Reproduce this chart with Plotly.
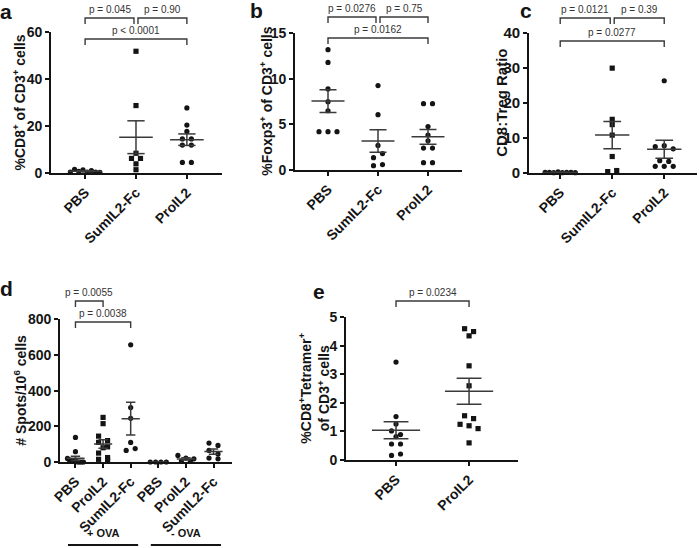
import numpy as np
import plotly.graph_objects as go

W, H = 699, 548

# ---------------- data ----------------
a_categories = ["PBS", "SumIL2-Fc", "ProIL2"]
a_pbs = [0.4, 1.6, 0.7, 1.3, 0.4, 1.0, 0.4, 0.3]
a_sumil2fc = [51.8, 28.7, 8.4, 6.2, 6.2, 3.9, 1.4]
a_proil2 = [27.7, 20.4, 17.7, 14.5, 14.5, 11.9, 11.9, 4.5, 4.5]
a_pvalues = ["p = 0.045", "p = 0.90", "p < 0.0001"]
a_ytitle = "%CD8<sup>+</sup> of CD3<sup>+</sup> cells"

b_categories = ["PBS", "SumIL2-Fc", "ProIL2"]
b_pbs = [13.2, 11.8, 8.9, 7.5, 6.5, 4.2, 4.2, 4.2]
b_sumil2fc = [9.26, 6.07, 2.7, 1.35, 1.8, 0.48, 0.59]
b_proil2 = [7.28, 7.28, 4.76, 3.84, 3.2, 2.41, 2.41, 0.8, 0.8]
b_pvalues = ["p = 0.0276", "p = 0.75", "p = 0.0162"]
b_ytitle = "%Foxp3<sup>+</sup> of CD3<sup>+</sup> cells"

c_categories = ["PBS", "SumIL2-Fc", "ProIL2"]
c_pbs = [0.15, 0.2, 0.1, 0.3, 0.1, 0.2, 0.15, 0.1]
c_sumil2fc = [29.9, 15.3, 13.8, 10.8, 4.7, 0.4, 0.7]
c_proil2 = [26.3, 7.5, 7.8, 6.9, 3.5, 3.3, 1.9, 1.9, 1.9]
c_pvalues = ["p = 0.0121", "p = 0.39", "p = 0.0277"]
c_ytitle = "CD8:Treg Ratio"

d_categories = ["PBS", "ProIL2", "SumIL2-Fc", "PBS", "ProIL2", "SumIL2-Fc"]
d_groups = ["+ OVA", "- OVA"]
d_pbs_ova = [138, 58, 20, 12, 8, 5, 3, 2, 0, 0, 0, 0]
d_proil2_ova = [250, 215, 145, 120, 110, 85, 80, 50, 25, 15, 12]
d_sumil2fc_ova = [657, 305, 245, 110, 65, 75]
d_pbs_noova = [0, 0, 0, 0]
d_proil2_noova = [37, 22, 18, 5, 3]
d_sumil2fc_noova = [106, 93, 65, 45, 22, 18]
d_pvalues = ["p = 0.0055", "p = 0.0038"]
d_ytitle = "# Spots/10<sup>6</sup> cells"

e_categories = ["PBS", "ProIL2"]
e_pbs = [3.43, 1.52, 1.26, 1.02, 0.89, 0.82, 0.56, 0.56, 0.16, 0.21]
e_proil2 = [4.6, 4.5, 4.35, 3.3, 2.6, 1.55, 1.45, 1.25, 1.2, 1.1, 0.6]
e_pvalues = ["p = 0.0234"]
e_ytitle = "%CD8<sup>+</sup>Tetramer<sup>+</sup><br>of CD3<sup>+</sup> cells"

# ---------------- layout spec (pixels) ----------------
FONT = "Liberation Sans, Arial, Helvetica, sans-serif"
INK = "#141414"
LINE = "#3a3a3a"
MS = 5.2

panels = [
    dict(key="a", px=(51, 222), py=(173, 32), xr=(-0.67, 2.69), yr=(0, 60), dtick=20,
         cats=a_categories, data=[(a_pbs, "circle"), (a_sumil2fc, "square"), (a_proil2, "circle")],
         ytitle=a_ytitle, ytx=20, tfs=14, kfs=14, letter=(6, 11)),
    dict(key="b", px=(295, 462), py=(170, 33.3), xr=(-0.66, 2.68), yr=(0, 15), dtick=5,
         cats=b_categories, data=[(b_pbs, "circle"), (b_sumil2fc, "circle"), (b_proil2, "circle")],
         ytitle=b_ytitle, ytx=266, tfs=14, kfs=14, letter=(256, 10)),
    dict(key="c", px=(529, 697), py=(173, 32.7), xr=(-0.6, 2.63), yr=(0, 40), dtick=10,
         cats=c_categories, data=[(c_pbs, "circle"), (c_sumil2fc, "square"), (c_proil2, "circle")],
         ytitle=c_ytitle, ytx=502, tfs=15, kfs=15, letter=(526, 10)),
    dict(key="d", px=(60, 232), py=(462, 319.3), xr=(-0.56, 5.67), yr=(0, 800), dtick=200,
         cats=d_categories,
         data=[(d_pbs_ova, "circle"), (d_proil2_ova, "square"), (d_sumil2fc_ova, "circle"),
               (d_pbs_noova, "circle"), (d_proil2_noova, "circle"), (d_sumil2fc_noova, "circle")],
         ytitle=d_ytitle, ytx=20, tfs=14, kfs=14, letter=(6, 288)),
    dict(key="e", px=(346, 518), py=(460, 317.3), xr=(-0.685, 1.67), yr=(0, 5), dtick=1,
         cats=e_categories, data=[(e_pbs, "circle"), (e_proil2, "square")],
         ytitle=e_ytitle, ytx=314, tfs=14, kfs=14, letter=(319, 291)),
]

# brackets: (panel, x_from_cat, x_to_cat, line_y_px, label)
brackets = [
    ("a", 0, 1, 18, a_pvalues[0], "L"), ("a", 1, 2, 18, a_pvalues[1], "R"), ("a", 0, 2, 39, a_pvalues[2], ""),
    ("b", 0, 1, 17, b_pvalues[0], "L"), ("b", 1, 2, 17, b_pvalues[1], "R"), ("b", 0, 2, 38, b_pvalues[2], ""),
    ("c", 0, 1, 18, c_pvalues[0], "L"), ("c", 1, 2, 18, c_pvalues[1], "R"), ("c", 0, 2, 41, c_pvalues[2], ""),
    ("d", 0, 1, 301, d_pvalues[0], ""), ("d", 0, 2, 322, d_pvalues[1], ""),
    ("e", 0, 1, 301, e_pvalues[0], ""),
]


def swarm(vals, ppu_y, ppu_x, thr=5.0, gap=9.0, maxfrac=0.58):
    vals = np.asarray(vals, float)
    order = np.argsort(-vals, kind="stable")
    rows, cur = [], []
    for idx in order:
        if cur and abs(vals[cur[0]] - vals[idx]) * ppu_y > thr:
            rows.append(cur)
            cur = []
        cur.append(idx)
    if cur:
        rows.append(cur)
    offs = np.zeros(len(vals))
    for r in rows:
        r = sorted(r)
        n = len(r)
        sp = gap if n == 1 else min(gap, maxfrac * ppu_x / (n - 1))
        for j, idx in enumerate(r):
            offs[idx] = (j - (n - 1) / 2) * sp / ppu_x
    return offs


fig = go.Figure()
annotations = []
shapes = []
pinfo = {}

for k, p in enumerate(panels):
    sfx = "" if k == 0 else str(k + 1)
    x0, x1 = p["px"]
    yb, yt = p["py"]
    r0, r1 = p["xr"]
    s0, s1 = p["yr"]
    ppu_x = (x1 - x0) / (r1 - r0)
    ppu_y = (yb - yt) / (s1 - s0)

    def xpx(v, x0=x0, r0=r0, ppu_x=ppu_x):
        return x0 + (v - r0) * ppu_x

    pinfo[p["key"]] = xpx

    lx, ly = [], []
    for i, (vals, sym) in enumerate(p["data"]):
        v = np.asarray(vals, float)
        offs = swarm(v, ppu_y, ppu_x)
        fig.add_trace(go.Scatter(
            x=i + offs, y=v, mode="markers", xaxis="x" + sfx, yaxis="y" + sfx,
            marker=dict(symbol=sym, size=MS, color=INK, line=dict(width=0)),
            cliponaxis=False, showlegend=False, hoverinfo="y"))
        m = v.mean()
        se = v.std(ddof=1) / np.sqrt(len(v))
        lx += [i - 0.33, i + 0.33, None]
        ly += [m, m, None]
        if se > 0:
            lx += [i, i, None, i - 0.17, i + 0.17, None, i - 0.17, i + 0.17, None]
            ly += [m - se, m + se, None, m + se, m + se, None, m - se, m - se, None]
    fig.add_trace(go.Scatter(
        x=lx, y=ly, mode="lines", xaxis="x" + sfx, yaxis="y" + sfx,
        line=dict(color=LINE, width=1.5), cliponaxis=False, showlegend=False, hoverinfo="skip"))

    xfont = dict(family=FONT, size=14, color=INK, weight=700)
    yfont = dict(family=FONT, size=p["kfs"], color=INK, weight=700)
    fig.update_layout(**{
        "xaxis" + sfx: dict(
            domain=[x0 / W, x1 / W], anchor="y" + sfx, range=[r0, r1], automargin=False,
            tickvals=list(range(len(p["cats"]))), ticktext=p["cats"], tickangle=-45,
            tickfont=xfont, ticks="outside", ticklen=4, tickwidth=1.5, tickcolor=INK,
            showline=True, linecolor=INK, linewidth=1.8, showgrid=False, zeroline=False,
            fixedrange=True),
        "yaxis" + sfx: dict(
            domain=[1 - yb / H, 1 - yt / H], anchor="x" + sfx, range=[s0, s1], automargin=False,
            tick0=0, dtick=p["dtick"], tickfont=yfont, ticks="outside", ticklen=4,
            tickwidth=1.5, tickcolor=INK, showline=True, linecolor=INK, linewidth=1.8,
            showgrid=False, zeroline=False, fixedrange=True),
    })

    annotations.append(dict(
        text=p["ytitle"], textangle=-90, x=p["ytx"] / W, y=1 - ((yb + yt) / 2) / H,
        xref="paper", yref="paper", showarrow=False, xanchor="center", yanchor="middle",
        font=dict(family=FONT, size=p["tfs"], color=INK, weight=700)))
    lx_, ly_ = p["letter"]
    annotations.append(dict(
        text=p["key"], x=lx_ / W, y=1 - ly_ / H, xref="paper", yref="paper",
        showarrow=False, xanchor="center", yanchor="middle",
        font=dict(family=FONT, size=21, color=INK, weight=700)))

# brackets
for key, c0, c1, ypx, label, side in brackets:
    f = pinfo[key]
    xa = f(c0) + (2.0 if side == "R" else 0)
    xb = f(c1) - (2.0 if side == "L" else 0)
    tick = 6
    path = "M {0},{1} L {0},{2} L {3},{2} L {3},{1}".format(
        xa / W, 1 - (ypx + tick) / H, 1 - ypx / H, xb / W)
    shapes.append(dict(type="path", path=path, xref="paper", yref="paper",
                       line=dict(color=LINE, width=1.4)))
    annotations.append(dict(
        text=label, x=(xa + xb) / 2 / W, y=1 - (ypx - 8.5) / H, xref="paper", yref="paper",
        showarrow=False, xanchor="center", yanchor="middle",
        font=dict(family=FONT, size=10, color="#333333")))

# OVA group lines under panel d
fd = pinfo["d"]
for g, (c0, c1) in enumerate([(0, 2), (3, 5)]):
    xa, xb = fd(c0 - 0.27), fd(c1 + 0.27)
    shapes.append(dict(type="line", x0=xa / W, x1=xb / W, y0=1 - 545 / H, y1=1 - 545 / H,
                       xref="paper", yref="paper", line=dict(color=INK, width=2)))
    annotations.append(dict(
        text=d_groups[g], x=(xa + xb) / 2 / W, y=1 - 533 / H, xref="paper", yref="paper",
        showarrow=False, xanchor="center", yanchor="middle",
        font=dict(family=FONT, size=11, color=INK, weight=700)))

fig.update_layout(
    width=W, height=H, autosize=False, margin=dict(l=0, r=0, t=0, b=0, autoexpand=False),
    paper_bgcolor="white", plot_bgcolor="white",
    annotations=annotations, shapes=shapes, showlegend=False,
    font=dict(family=FONT, color=INK),
)

fig.write_html("out.html", config={"displayModeBar": False},
               post_script="document.body.style.margin='0px';document.body.style.padding='0px';")
